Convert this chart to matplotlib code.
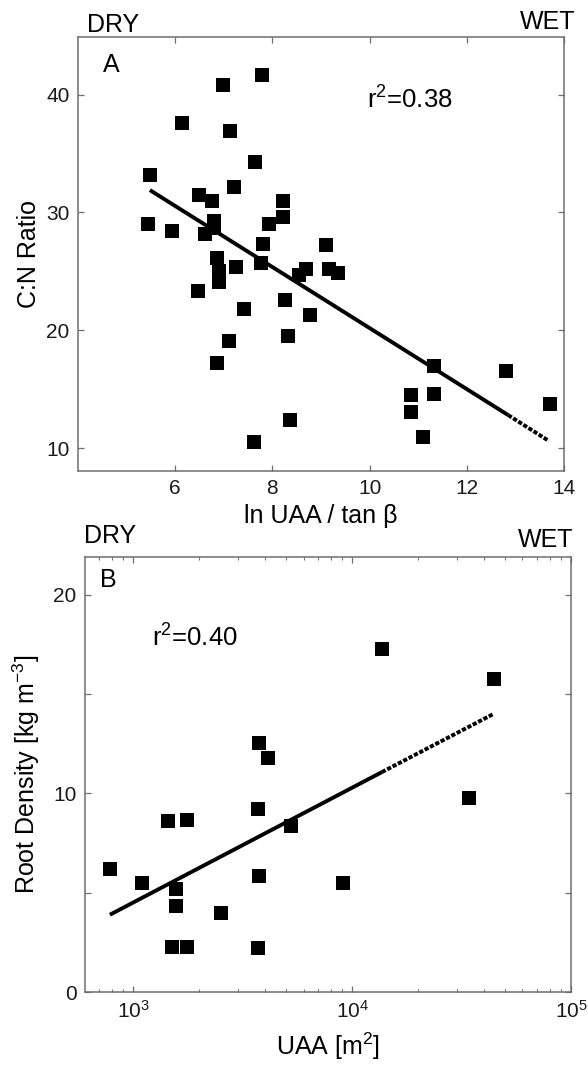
import numpy as np
import matplotlib
matplotlib.use("Agg")
import matplotlib.pyplot as plt
from matplotlib.ticker import LogLocator, FixedLocator

plt.rcParams['font.family'] = ['Liberation Sans', 'DejaVu Sans']
plt.rcParams['mathtext.fontset'] = 'custom'
plt.rcParams['mathtext.rm'] = 'Liberation Sans'
plt.rcParams['mathtext.it'] = 'Liberation Sans:italic'
plt.rcParams['mathtext.bf'] = 'Liberation Sans:bold'

# ---- Panel A data: ln(UAA/tan beta) vs C:N ratio ----
a_x = [5.49, 5.45, 5.93, 6.13, 6.99, 7.79, 7.12, 7.65, 7.22, 6.49, 6.75, 8.21,
       8.21, 7.93, 6.80, 6.80, 6.62, 7.80, 9.10, 6.86, 6.91, 6.90, 6.46, 7.26,
       7.76, 8.70, 8.55, 9.17, 9.36, 8.25, 8.77, 7.42, 8.32, 7.10, 6.86, 8.37,
       7.63, 10.86, 10.86, 11.09, 11.32, 11.32, 12.81, 13.72]
a_y = [33.2, 29.0, 28.4, 37.6, 40.8, 41.7, 36.9, 34.3, 32.2, 31.5, 31.0, 31.0,
       29.6, 29.0, 29.3, 28.7, 28.2, 27.3, 27.2, 26.1, 25.0, 24.1, 23.3, 25.4,
       25.7, 25.2, 24.7, 25.2, 24.9, 22.6, 21.3, 21.8, 19.5, 19.1, 17.2, 12.4,
       10.5, 14.5, 13.1, 10.9, 14.6, 17.0, 16.5, 13.7]
a_fit_x = [5.48, 12.85, 13.69]
a_fit_y = [31.9, 12.8, 10.6]
a_xticks = [6, 8, 10, 12, 14]
a_yticks = [10, 20, 30, 40]

# ---- Panel B data: UAA vs root density ----
b_x = [783, 1100, 1440, 1753, 1572, 1563, 1502, 1753, 2522, 3750, 4131, 3699,
       3750, 3699, 5248, 9057, 13680, 34210, 44460]
b_y = [6.19, 5.51, 8.61, 8.68, 5.20, 4.33, 2.25, 2.25, 3.96, 12.55, 11.76, 9.23,
       5.84, 2.22, 8.36, 5.51, 17.28, 9.75, 15.74]
b_fit_x = [783, 13680, 44460]
b_fit_y = [3.89, 11.07, 14.01]
b_yticks = [0, 10, 20]
b_yminor = [5, 15]

W, H = 588, 1070
fig = plt.figure(figsize=(W / 100, H / 100), dpi=100)

spine_c = '#6e6e6e'
tick_fs = 15
lab_fs = 18
ann_fs = 18
r2_fs = 18.5
ms = 9.4
lw = 2.8
dot_style = (0, (1.1, 0.45))


def style(ax):
    for s in ax.spines.values():
        s.set_color(spine_c)
        s.set_linewidth(1.1)
    ax.tick_params(which='both', direction='in', top=True, right=True,
                   color=spine_c, labelsize=tick_fs, labelcolor='#1a1a1a')
    ax.tick_params(which='major', length=4.5, width=0.9, pad=6)
    ax.tick_params(which='minor', length=2.5, width=0.8)


# Panel A
axA = fig.add_axes([78 / W, 1 - 471 / H, 486 / W, 434 / H])
axA.plot(a_x, a_y, 's', color='black', ms=ms, mec='black', mew=0)
axA.plot(a_fit_x[:2], a_fit_y[:2], '-', color='black', lw=lw, solid_capstyle='butt')
axA.plot(a_fit_x[1:], a_fit_y[1:], linestyle=dot_style, color='black', lw=lw)
axA.set_xlim(4, 14)
axA.set_ylim(8.05, 44.9)
axA.xaxis.set_major_locator(FixedLocator(a_xticks))
axA.yaxis.set_major_locator(FixedLocator(a_yticks))
style(axA)
axA.set_xlabel('ln UAA / tan β', fontsize=lab_fs, labelpad=4)
axA.set_ylabel('C:N Ratio', fontsize=lab_fs, labelpad=4)
axA.text(0.019, 1.012, 'DRY', transform=axA.transAxes, fontsize=ann_fs, va='baseline', ha='left')
axA.text(1.023, 1.018, 'WET', transform=axA.transAxes, fontsize=ann_fs, va='baseline', ha='right')
axA.text(0.051, 0.919, 'A', transform=axA.transAxes, fontsize=ann_fs, va='baseline', ha='left')
axA.text(0.595, 0.836, 'r$^2$=0.38', transform=axA.transAxes, fontsize=r2_fs, va='baseline', ha='left')

# Panel B
axB = fig.add_axes([85 / W, 1 - 992 / H, 486 / W, 435 / H])
axB.plot(b_x, b_y, 's', color='black', ms=ms, mec='black', mew=0)
axB.plot(b_fit_x[:2], b_fit_y[:2], '-', color='black', lw=lw, solid_capstyle='butt')
axB.plot(b_fit_x[1:], b_fit_y[1:], linestyle=dot_style, color='black', lw=lw)
axB.set_xscale('log')
axB.set_xlim(10 ** 2.78, 1e5)
axB.set_ylim(0, 21.9)
axB.xaxis.set_major_locator(LogLocator(base=10, numticks=10))
axB.xaxis.set_minor_locator(LogLocator(base=10, subs=np.arange(2, 10), numticks=10))
axB.yaxis.set_major_locator(FixedLocator(b_yticks))
axB.yaxis.set_minor_locator(FixedLocator(b_yminor))
style(axB)
axB.tick_params(axis='y', which='minor', length=4.5, width=0.9)
axB.set_xlabel('UAA [m$^2$]', fontsize=lab_fs, labelpad=6)
axB.set_ylabel('Root Density [kg m$^{-3}$]', fontsize=lab_fs, labelpad=8)
axB.text(-0.002, 1.032, 'DRY', transform=axB.transAxes, fontsize=ann_fs, va='baseline', ha='left')
axB.text(1.004, 1.023, 'WET', transform=axB.transAxes, fontsize=ann_fs, va='baseline', ha='right')
axB.text(0.031, 0.931, 'B', transform=axB.transAxes, fontsize=ann_fs, va='baseline', ha='left')
axB.text(0.138, 0.793, 'r$^2$=0.40', transform=axB.transAxes, fontsize=r2_fs, va='baseline', ha='left')

fig.savefig('out.png', dpi=100)
